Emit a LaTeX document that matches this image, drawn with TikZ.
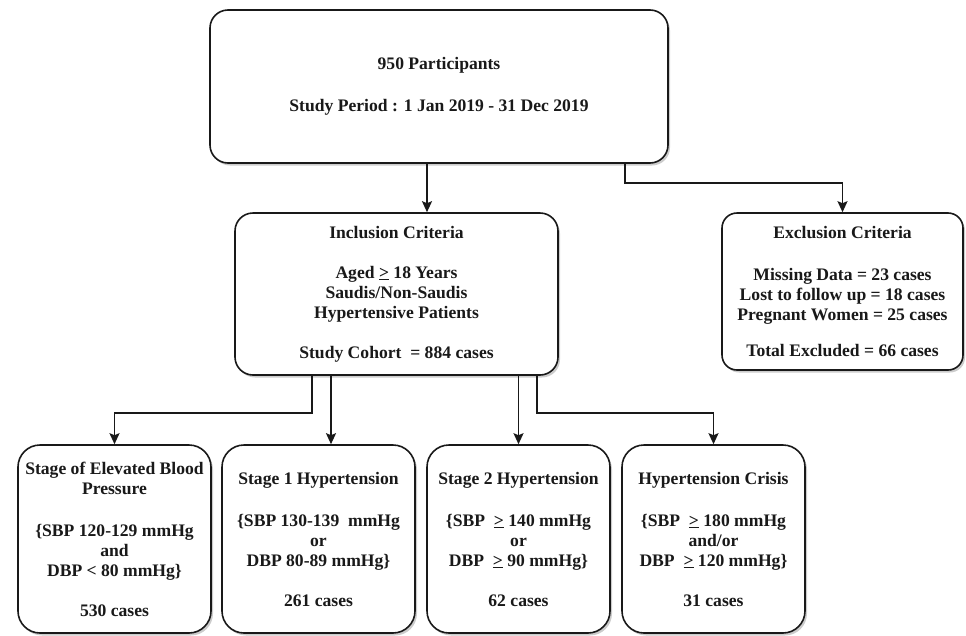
\documentclass[tikz,border=0pt]{standalone}
\usepackage{fontspec}
\setmainfont{Liberation Serif}
\usetikzlibrary{arrows.meta,shadows}

\tikzset{
    box/.style={draw=black!90, line width=1.6pt, rounded corners=18pt, fill=white,
        drop shadow={shadow xshift=2pt, shadow yshift=-2.5pt, opacity=0.4},
        align=center, text=black!90, inner sep=0pt,
        font=\fontsize{17.6}{20}\selectfont\bfseries},
    link/.style={draw=black!90, line width=1.7pt, -{Stealth[length=11pt,width=10pt,inset=2pt]}}
}
\newcommand{\geu}{\underline{>}}

\begin{document}
\begin{tikzpicture}[x=1pt,y=-1pt]
    \useasboundingbox (0,0) rectangle (966,635);

    % Draw the top box
    \node[box, minimum width=458pt, minimum height=153pt] (part) at (439,86.5)
        {950 Participants\\[22pt] Study Period : 1 Jan 2019 - 31 Dec 2019};

    % Draw the criteria boxes
    \node[box, minimum width=323pt, minimum height=162pt] (incl) at (396.5,294)
        {Inclusion Criteria\\[20pt] Aged \geu{} 18 Years\\ Saudis/Non-Saudis\\ Hypertensive Patients\\[20pt] Study Cohort~ = 884 cases};
    \node[box, minimum width=241pt, minimum height=157pt, rounded corners=15pt] (excl) at (842.5,291.5)
        {Exclusion Criteria\\[22pt] Missing Data = 23 cases\\ Lost to follow up = 18 cases\\ Pregnant Women = 25 cases\\[16pt] Total Excluded = 66 cases};

    % Draw the stage boxes
    \node[box, minimum width=193pt, minimum height=188pt, rounded corners=22pt] (elev) at (114.5,539)
        {Stage of Elevated Blood\\ Pressure\\[22pt] \{SBP 120-129 mmHg\\ and\\ DBP < 80 mmHg\}\\[20pt] 530 cases};
    \node[box, minimum width=193pt, minimum height=188pt, rounded corners=22pt] (st1) at (318.5,539)
        {Stage 1 Hypertension\\[22pt] \{SBP 130-139~ mmHg\\ or\\ DBP 80-89 mmHg\}\\[20pt] 261 cases};
    \node[box, minimum width=183pt, minimum height=188pt, rounded corners=22pt] (st2) at (518.5,539)
        {Stage 2 Hypertension\\[22pt] \{SBP~ \geu{} 140 mmHg\\ or\\ DBP~ \geu{} 90 mmHg\}\\[20pt] 62 cases};
    \node[box, minimum width=183pt, minimum height=188pt, rounded corners=22pt] (crisis) at (713.5,539)
        {Hypertension Crisis\\[22pt] \{SBP~ \geu{} 180 mmHg\\ and/or\\ DBP~ \geu{} 120 mmHg\}\\[20pt] 31 cases};

    % Draw the connectors
    \draw[link] ([xshift=-12pt]part.south) -- ([xshift=-12pt]part.south |- incl.north);
    \draw[link] ([xshift=186pt]part.south) -- ++(0,19) -| (excl.north);
    \draw[link] ([xshift=-84.5pt]incl.south) -- ++(0,37) -| (elev.north);
    \draw[link] ([xshift=-65.5pt]incl.south) -- ([xshift=-65.5pt]incl.south |- st1.north);
    \draw[link] (st2.north |- incl.south) -- (st2.north);
    \draw[link] ([xshift=140.5pt]incl.south) -- ++(0,37) -| (crisis.north);
\end{tikzpicture}
\end{document}
